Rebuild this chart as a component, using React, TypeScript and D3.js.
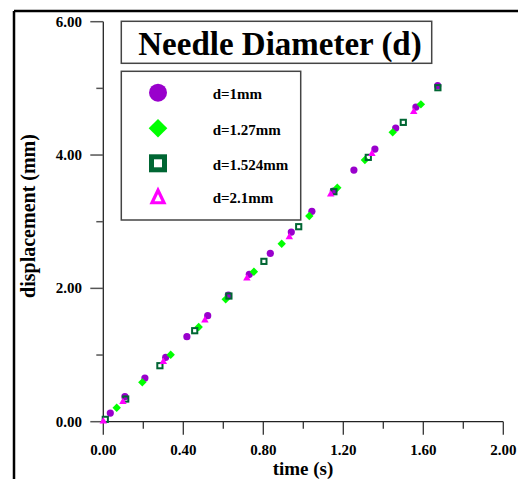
import React from "react";
import * as d3 from "d3";

const xTicks = [0, 0.4, 0.8, 1.2, 1.6, 2.0];
const xMinor = [0.2, 0.6, 1.0, 1.4, 1.8];
const yTicks = [0, 2, 4, 6];
const yMinor = [1, 3, 5];

const c1T = [0.035, 0.108, 0.208, 0.312, 0.418, 0.522, 0.625, 0.73, 0.835, 0.94, 1.043, 1.15, 1.253, 1.358, 1.462, 1.563, 1.672];
const c1D = [0.13, 0.375, 0.655, 0.965, 1.275, 1.59, 1.9, 2.21, 2.525, 2.845, 3.155, 3.46, 3.775, 4.09, 4.405, 4.72, 5.04];

const c2T = [0.067, 0.195, 0.337, 0.477, 0.612, 0.753, 0.892, 1.03, 1.17, 1.308, 1.447, 1.588];
const c2D = [0.21, 0.59, 1.005, 1.42, 1.835, 2.25, 2.67, 3.085, 3.51, 3.925, 4.34, 4.76];

const c3T = [0.01, 0.112, 0.283, 0.457, 0.628, 0.803, 0.977, 1.153, 1.325, 1.5, 1.673];
const c3D = [0.035, 0.34, 0.84, 1.365, 1.885, 2.405, 2.925, 3.45, 3.965, 4.49, 5.01];

const c4T = [0, 0.098, 0.3, 0.508, 0.718, 0.93, 1.137, 1.343, 1.552];
const c4D = [0.02, 0.315, 0.915, 1.535, 2.165, 2.785, 3.425, 4.035, 4.665];

const legendLabels = ["d=1mm", "d=1.27mm", "d=1.524mm", "d=2.1mm"];
const title = "Needle Diameter (d)";

const FONT = "'Liberation Serif', 'Times New Roman', serif";
const PURPLE = "#9900CC";
const GREEN = "#00FF00";
const DKGREEN = "#006633";
const MAGENTA = "#FF00FF";

export default function App() {
  const x = d3.scaleLinear().domain([0, 2]).range([103.3, 503.3]);
  const y = d3.scaleLinear().domain([0, 6]).range([421.7, 21.7]);

  const diamond = (cx: number, cy: number, r: number) =>
    `M${cx},${cy - r}L${cx + r},${cy}L${cx},${cy + r}L${cx - r},${cy}Z`;
  const tri = (cx: number, cy: number, w: number, h: number) =>
    `M${cx},${cy - h / 2}L${cx + w / 2},${cy + h / 2}L${cx - w / 2},${cy + h / 2}Z`;

  const legendY = [92.7, 128.3, 163.3, 196];
  const lx = 158;

  return (
    <svg width={518} height={479} style={{ position: "absolute", left: 0, top: 0 }}>
      <rect x={0} y={0} width={518} height={479} fill="#fff" />
      {/* frame */}
      <line x1={14} y1={11} x2={520} y2={11} stroke="#000" strokeWidth={2.5} />
      <line x1={14} y1={11} x2={14} y2={482} stroke="#000" strokeWidth={2.5} />

      {/* y axis */}
      <line x1={x(0)} y1={y(6)} x2={x(0)} y2={y(0)} stroke="#222" strokeWidth={1.3} />
      {yTicks.map((t) => (
        <g key={"yt" + t}>
          <line x1={x(0) - 13} x2={x(0)} y1={y(t)} y2={y(t)} stroke="#555" strokeWidth={1.5} />
          <text x={82} y={y(t) + 5} textAnchor="end" fontFamily={FONT} fontWeight="bold" fontSize={15}>
            {t.toFixed(2)}
          </text>
        </g>
      ))}
      {yMinor.map((t) => (
        <line key={"ym" + t} x1={x(0) - 7} x2={x(0)} y1={y(t)} y2={y(t)} stroke="#555" strokeWidth={1.5} />
      ))}

      {/* x axis */}
      <line x1={x(0)} y1={y(0)} x2={x(2)} y2={y(0)} stroke="#222" strokeWidth={1.3} />
      {xTicks.map((t) => (
        <g key={"xt" + t}>
          <line x1={x(t)} x2={x(t)} y1={y(0)} y2={y(0) + 13} stroke="#333" strokeWidth={1.3} />
          <text x={x(t)} y={455} textAnchor="middle" fontFamily={FONT} fontWeight="bold" fontSize={15}>
            {t.toFixed(2)}
          </text>
        </g>
      ))}
      {xMinor.map((t) => (
        <line key={"xm" + t} x1={x(t)} x2={x(t)} y1={y(0)} y2={y(0) + 7} stroke="#333" strokeWidth={1.3} />
      ))}

      {/* axis titles */}
      <text x={303} y={475} textAnchor="middle" fontFamily={FONT} fontWeight="bold" fontSize={19}>
        time (s)
      </text>
      <text
        transform="translate(35,216) rotate(-90)"
        textAnchor="middle"
        fontFamily={FONT}
        fontWeight="bold"
        fontSize={20}
      >
        displacement (mm)
      </text>

      {/* data */}
      {c1T.map((t, i) => (
        <circle key={"c1" + i} cx={x(t)} cy={y(c1D[i])} r={3.6} fill={PURPLE} />
      ))}
      {c2T.map((t, i) => (
        <path key={"c2" + i} d={diamond(x(t), y(c2D[i]), 4.2)} fill={GREEN} />
      ))}
      {c3T.map((t, i) => (
        <rect
          key={"c3" + i}
          x={x(t) - 2.6}
          y={y(c3D[i]) - 2.6}
          width={5.2}
          height={5.2}
          fill="none"
          stroke={DKGREEN}
          strokeWidth={2}
        />
      ))}
      {c4T.map((t, i) => (
        <path key={"c4" + i} d={tri(x(t), y(c4D[i]), 7.5, 6.5)} fill={MAGENTA} />
      ))}

      {/* title box */}
      <rect x={121.3} y={21.3} width={310.4} height={42} fill="#fff" stroke="#444" strokeWidth={1.5} />
      <text x={280} y={55} textAnchor="middle" fontFamily={FONT} fontWeight="bold" fontSize={33}>
        {title}
      </text>

      {/* legend */}
      <rect x={121.3} y={71.3} width={179.4} height={148.7} fill="#fff" stroke="#444" strokeWidth={1.5} />
      <circle cx={lx} cy={legendY[0]} r={9} fill={PURPLE} />
      <path d={diamond(lx, legendY[1], 9.3)} fill={GREEN} />
      <rect x={lx - 6.5} y={legendY[2] - 6.5} width={13} height={13} fill="#fff" stroke={DKGREEN} strokeWidth={5} />
      <path d={tri(lx, legendY[3] + 0.5, 12, 12.5)} fill="none" stroke={MAGENTA} strokeWidth={3.2} />
      {legendLabels.map((l, i) => (
        <text key={l} x={212.7} y={legendY[i] + 6.5} fontFamily={FONT} fontWeight="bold" fontSize={15}>
          {l}
        </text>
      ))}
    </svg>
  );
}
